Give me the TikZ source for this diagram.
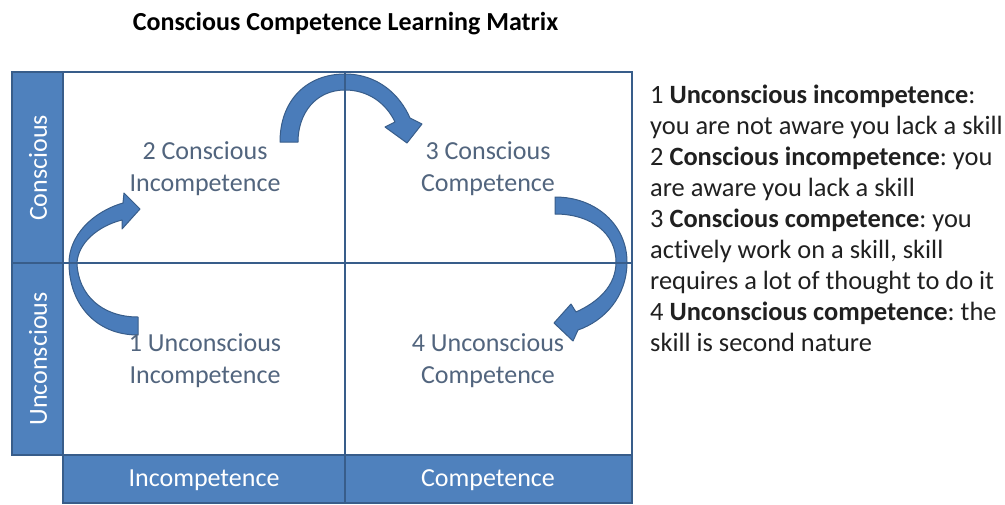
\documentclass[tikz,border=0pt]{standalone}
\usepackage{fontspec}
\setmainfont{Carlito}[Ligatures=NoCommon]
\frenchspacing
\definecolor{barblue}{RGB}{79,129,189}
\definecolor{edgeblue}{RGB}{56,93,138}
\definecolor{arrowblue}{RGB}{74,124,186}
\definecolor{celltext}{RGB}{82,101,126}
\definecolor{bodytext}{RGB}{32,32,32}
\begin{document}
\begin{tikzpicture}[x=1pt,y=-1pt,
  bar/.style={fill=barblue,draw=edgeblue,line width=2.2pt},
  gridline/.style={draw=edgeblue,line width=2.2pt},
  blockarrow/.style={fill=arrowblue,draw=edgeblue,line width=1pt,line join=round},
  celllabel/.style={font=\fontsize{26}{32}\selectfont,text=celltext,align=center,inner sep=0pt},
  barlabel/.style={font=\fontsize{26}{32}\selectfont,text=white,inner sep=0pt},
  notes/.style={font=\fontsize{26.4}{31}\selectfont,text=bodytext,anchor=base west,inner sep=0pt}]
\useasboundingbox (0,0) rectangle (1005,504);
\fill[white] (0,0) rectangle (1005,504);

% title
\node[font=\fontsize{26}{31}\selectfont\bfseries,anchor=base,inner sep=0pt] (title) at (345.5,30) {Conscious Competence Learning Matrix};

% side and bottom bars, white matrix area
\filldraw[bar] (12,72) rectangle (63,455);
\filldraw[bar] (63,455) rectangle (632,503);
\filldraw[fill=white,draw=edgeblue,line width=2.2pt] (63,72) rectangle (632,455);

% curved block arrows
% 1 -> 2
\filldraw[blockarrow] (138,335) .. controls (95,335) and (69,303) .. (69,263)
  .. controls (69,236) and (92,212) .. (123,203) -- (124,193) -- (140,209)
  -- (122,229) -- (122,220) .. controls (98,226) and (78,243) .. (77,263)
  .. controls (78,295) and (102,317) .. (138,317) -- cycle;
% 2 -> 3
\filldraw[blockarrow] (280,142) .. controls (280,100) and (307,74) .. (345,74)
  .. controls (378,74) and (400,95) .. (410,118) -- (422,124) -- (407,143)
  -- (385,127) -- (395,122) .. controls (386,103) and (368,90) .. (345,90)
  .. controls (316,90) and (298,113) .. (298,142) -- cycle;
% 3 -> 4
\filldraw[blockarrow] (555,197) .. controls (597,197) and (627,226) .. (627,262)
  .. controls (627,297) and (604,321) .. (578,330) -- (573,341) -- (554,323)
  -- (571,304) -- (576,312) .. controls (598,302) and (616,286) .. (616,262)
  .. controls (616,234) and (592,214) .. (555,214) -- cycle;

% dividing lines
\draw[gridline] (345,72) -- (345,503);
\draw[gridline] (12,263) -- (632,263);
\draw[gridline] (12,72) rectangle (632,455);

% quadrant labels
\node[celllabel] (q2) at (205,169) {2 Conscious\\Incompetence};
\node[celllabel] (q3) at (488,169) {3 Conscious\\Competence};
\node[celllabel] (q1) at (205,361) {1 Unconscious\\Incompetence};
\node[celllabel] (q4) at (488,361) {4 Unconscious\\Competence};

% axis labels
\node[barlabel,rotate=90] (ax1) at (38,168) {Conscious};
\node[barlabel,rotate=90] (ax2) at (38,359) {Unconscious};
\node[barlabel] (ax3) at (204,480) {Incompetence};
\node[barlabel] (ax4) at (488,480) {Competence};

% explanation
\node[notes] (n1) at (650,103) {1 \textbf{Unconscious incompetence}:};
\node[notes] (n2) at (650,134) {you are not aware you lack a skill};
\node[notes] (n3) at (650,165) {2 \textbf{Conscious incompetence}: you};
\node[notes] (n4) at (650,196) {are aware you lack a skill};
\node[notes] (n5) at (650,227) {3 \textbf{Conscious competence}: you};
\node[notes] (n6) at (650,258) {actively work on a skill, skill};
\node[notes] (n7) at (650,289) {requires a lot of thought to do it};
\node[notes] (n8) at (650,320) {4 \textbf{Unconscious competence}: the};
\node[notes] (n9) at (650,351) {skill is second nature};
\end{tikzpicture}
\end{document}
